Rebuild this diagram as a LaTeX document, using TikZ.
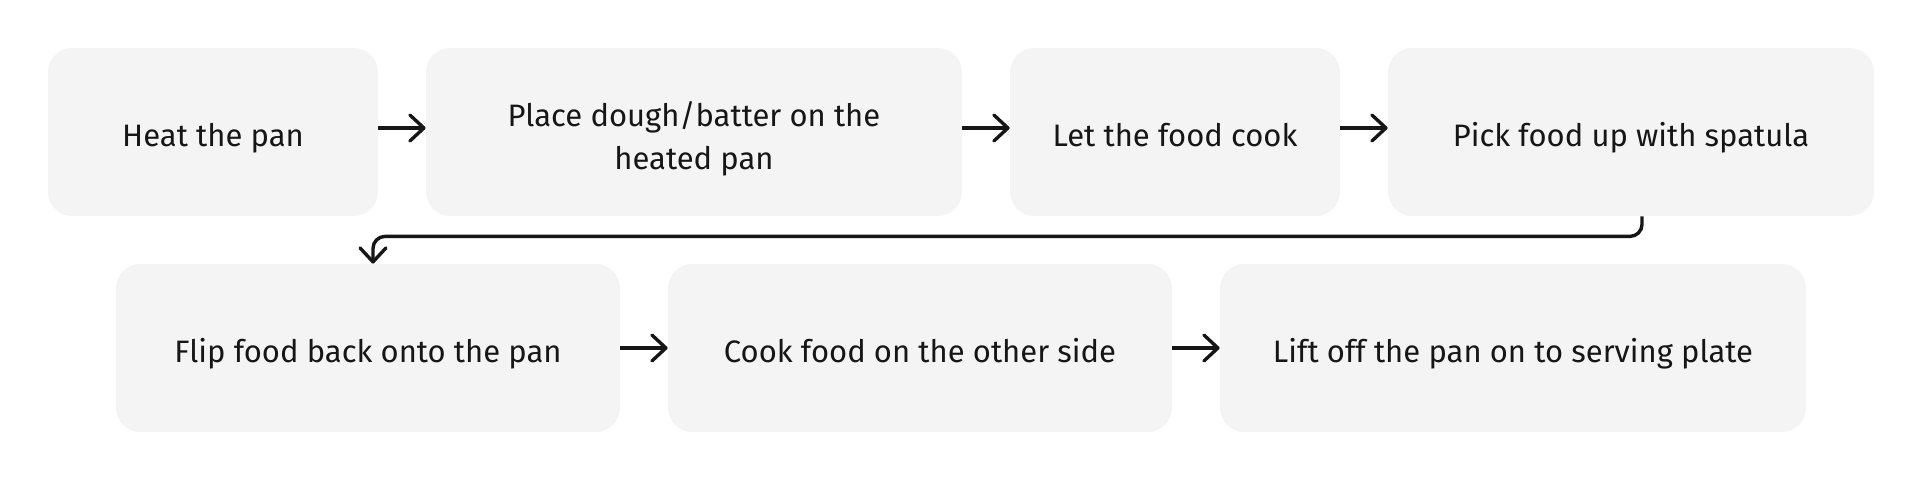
\documentclass[tikz,border=0pt]{standalone}
\usepackage{fontspec}
\setmainfont{Fira Sans}
\usetikzlibrary{arrows.meta}
\definecolor{fondbox}{HTML}{F4F4F4}
\definecolor{encre}{HTML}{161616}

\begin{document}
\begin{tikzpicture}[x=0.5pt,y=-0.5pt,
    etape/.style={fill=fondbox, rounded corners=12pt, minimum height=84pt, inner sep=0pt,
        text height=18pt, text depth=3.3pt,
        align=center, text=encre, font=\fontsize{15.5pt}{21.5pt}\selectfont},
    fleche/.style={draw=encre, line width=1.7pt, -{Straight Barb[round,length=7pt,width=13pt]}}]
\useasboundingbox (0,0) rectangle (1920,480);
% premiere ligne
\node[etape, minimum width=165pt] (heat) at (213,132) {Heat the pan};
\node[etape, minimum width=268pt, text height=41pt, text depth=3pt] (place) at (694,132) {Place dough/batter on the\\heated pan};
\node[etape, minimum width=165pt] (cook) at (1175,132) {Let the food cook};
\node[etape, minimum width=243pt] (pick) at (1631,132) {Pick food up with spatula};
% deuxieme ligne
\node[etape, minimum width=252pt] (flip) at (368,348) {Flip food back onto the pan};
\node[etape, minimum width=252pt] (other) at (920,348) {Cook food on the other side};
\node[etape, minimum width=293pt] (lift) at (1513,348) {Lift off the pan on to serving plate};
% fleches
\draw[fleche] ([yshift=2pt]heat.east) -- ([yshift=2pt]place.west);
\draw[fleche] ([yshift=2pt]place.east) -- ([yshift=2pt]cook.west);
\draw[fleche] ([yshift=2pt]cook.east) -- ([yshift=2pt]pick.west);
\draw[fleche, rounded corners=6pt] ([xshift=5.5pt]pick.south) -- ++(0,20) -| ([xshift=2.5pt]flip.north);
\draw[fleche] (flip) -- (other);
\draw[fleche] (other) -- (lift);
\end{tikzpicture}
\end{document}
